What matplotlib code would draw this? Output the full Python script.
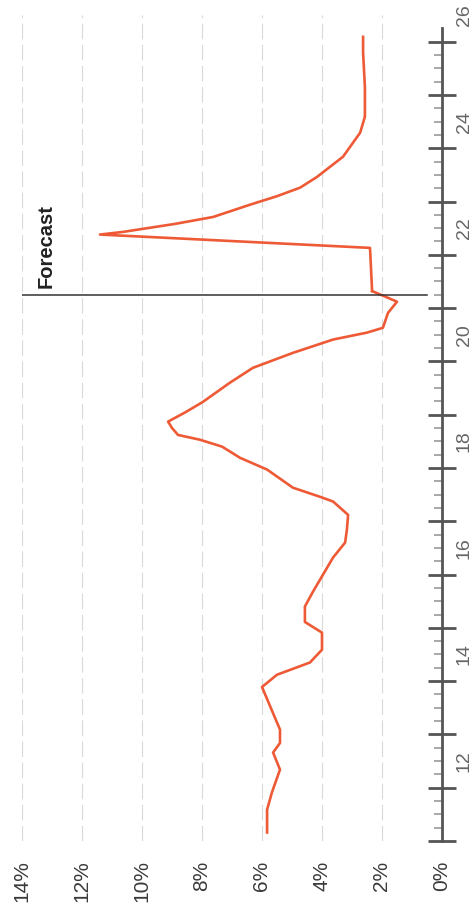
import matplotlib
matplotlib.use("Agg")
import matplotlib.pyplot as plt
from matplotlib.ticker import FixedLocator, NullFormatter

plt.rcParams['font.family'] = ['Liberation Sans', 'DejaVu Sans']

# time axis (years, fractional)
hist_t = [11.16, 11.59, 11.91, 12.34, 12.66, 12.84, 13.09, 13.89, 14.12, 14.35,
          14.59, 14.91, 15.11, 15.40, 15.68, 16.32, 16.60, 16.84, 17.12, 17.37,
          17.46, 17.63, 17.97, 18.19, 18.40, 18.53, 18.62, 18.75, 18.87, 19.04,
          19.24, 19.60, 19.88, 20.16, 20.41, 20.54, 20.63, 20.91, 21.12, 21.32]
hist_pct = [5.83, 5.83, 5.67, 5.40, 5.63, 5.40, 5.40, 6.00, 5.50, 4.40,
            4.00, 4.00, 4.57, 4.57, 4.30, 3.63, 3.23, 3.17, 3.13, 3.63,
            4.07, 4.97, 5.83, 6.73, 7.33, 8.07, 8.80, 9.00, 9.13, 8.57,
            7.97, 7.07, 6.30, 4.97, 3.63, 2.50, 1.97, 1.80, 1.50, 2.33]

fc_t = [21.32, 22.13, 22.38, 22.43, 22.58, 22.71, 22.94, 23.10, 23.26, 23.46,
        23.84, 24.29, 24.59, 25.15, 25.79, 26.09]
fc_pct = [2.33, 2.40, 11.40, 10.63, 8.90, 7.63, 6.40, 5.50, 4.73, 4.17,
          3.30, 2.73, 2.57, 2.57, 2.63, 2.63]

forecast_t = 21.25
pct_ticks = [0, 2, 4, 6, 8, 10, 12, 14]
pct_labels = ['0%', '2%', '4%', '6%', '8%', '10%', '12%', '14%']
year_label_pos = [12.5, 14.5, 16.5, 18.5, 20.5, 22.5, 24.5, 26.5]
year_labels = ['12', '14', '16', '18', '20', '22', '24', '26']

fig = plt.figure(figsize=(4.77, 9.17), dpi=100)
ax = fig.add_axes([22/477, 1 - 841/917, 420/477, 826/917])

line_color = '#EE5A36'
ax.plot(hist_pct, hist_t, color=line_color, lw=1.9, solid_joinstyle='round', zorder=3)
ax.plot(fc_pct, fc_t, color=line_color, lw=1.9, solid_joinstyle='round', zorder=3)

ax.plot([14.0, 0.5], [forecast_t, forecast_t], color='#333333', lw=1.1, zorder=4)
ax.text(13.2, forecast_t + 0.12, 'Forecast', rotation=90, ha='center', va='bottom',
        fontsize=14.5, fontweight='bold', color='#222222')

ax.set_xlim(14, 0)
ax.set_ylim(11, 26.5)

for s in ['top', 'left', 'bottom']:
    ax.spines[s].set_visible(False)
ax.spines['right'].set_color('#555555')
ax.spines['right'].set_linewidth(2.0)
ax.spines['right'].set_bounds(11, 26.25)

ax.yaxis.tick_right()
ax.yaxis.set_major_locator(FixedLocator(list(range(11, 27))))
ax.yaxis.set_major_formatter(NullFormatter())
ax.yaxis.set_minor_locator(FixedLocator([y + q for y in range(11, 26) for q in (0.25, 0.5, 0.75)]))
ax.tick_params(axis='y', which='major', direction='inout', length=20, width=2.0, color='#555555')
ax.tick_params(axis='y', which='minor', direction='in', length=6, width=1.2, color='#999999')

ax.set_xticks(pct_ticks)
ax.set_xticklabels(pct_labels, rotation=90, fontsize=15, color='#3a3a3a')
ax.tick_params(axis='x', length=0, pad=14)

ax.grid(axis='x', color='#d9d9d9', lw=0.8, linestyle=(0, (14, 5)))
ax.set_axisbelow(True)

sec = ax.secondary_yaxis('right')
sec.set_yticks(year_label_pos)
sec.set_yticklabels(year_labels, rotation=90, va='center', fontsize=14, color='#666666')
sec.tick_params(length=0, pad=10)
sec.spines['right'].set_visible(False)

fig.savefig('out.png', dpi=100)
